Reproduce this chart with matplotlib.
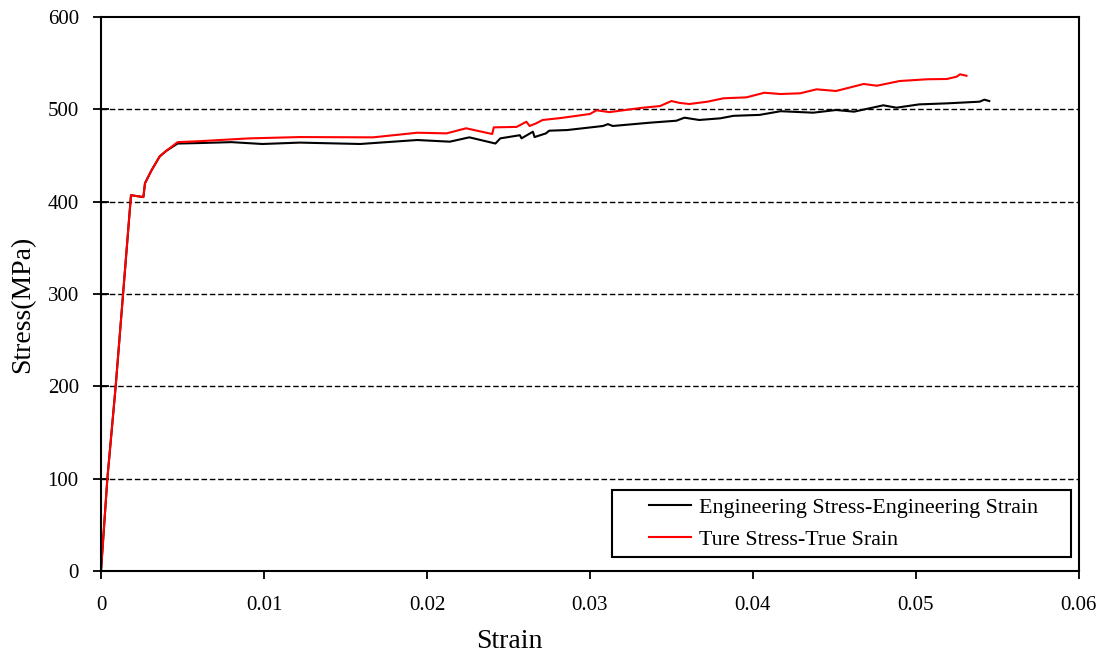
import numpy as np
import matplotlib
matplotlib.use("Agg")
import matplotlib.pyplot as plt
from matplotlib.patches import Rectangle

plt.rcParams['font.family'] = ['Liberation Serif', 'DejaVu Serif']

# engineering stress-strain (MPa)
eng_strain = [0, 0.00039, 0.0009, 0.00184, 0.0026, 0.0027, 0.0031, 0.0036, 0.0040,
              0.0047, 0.0060, 0.0080, 0.0099, 0.0122, 0.0159, 0.0194, 0.0214,
              0.0226, 0.0242, 0.0245, 0.0257, 0.0258, 0.0265, 0.0266, 0.0273,
              0.0275, 0.0286, 0.0308, 0.0311, 0.0314, 0.0337, 0.0353, 0.0358,
              0.0367, 0.0380, 0.0388, 0.0404, 0.0417, 0.0437, 0.0451, 0.0462,
              0.0480, 0.0488, 0.0502, 0.0519, 0.0539, 0.0542, 0.0545]
eng_stress = [0, 100, 200, 407, 405, 420, 434, 449, 455,
              463, 463.5, 464.5, 462.5, 464, 462.5, 466.8, 465,
              469.7, 463, 468.6, 472, 468.6, 475.8, 470, 474,
              476.9, 477.6, 482, 484, 482, 485.6, 487.7, 491,
              488.5, 490.3, 493, 494, 498, 496.4, 499.3, 497.5,
              504.4, 501.8, 505.4, 506.5, 508.3, 510.5, 509]

# true stress-strain (MPa)
true_strain = [0, 0.00039, 0.0009, 0.00184, 0.0026, 0.0027, 0.0031, 0.0036, 0.0040,
               0.0047, 0.0060, 0.0080, 0.00914, 0.0122, 0.0167, 0.0194, 0.0212,
               0.0224, 0.0240, 0.0241, 0.0255, 0.0261, 0.0263, 0.0267, 0.0271,
               0.0282, 0.0300, 0.0304, 0.0312, 0.0331, 0.0343, 0.0350, 0.0355,
               0.0361, 0.0372, 0.0382, 0.0396, 0.0407, 0.0417, 0.0429, 0.0439,
               0.0451, 0.0468, 0.0476, 0.0490, 0.0507, 0.0519, 0.0525, 0.0527,
               0.0531]
true_stress = [0, 100, 200, 407, 405, 420, 434, 449, 455,
               464.5, 465.5, 467.5, 468.6, 470, 469.7, 474.7, 474,
               479.5, 473.3, 480.5, 481, 486.6, 482, 484.9, 488.5,
               490.6, 495, 499, 497, 501.5, 503.6, 509, 507,
               505.8, 508.3, 512, 513, 518, 516.6, 517.4, 521.7,
               519.9, 527.5, 525.6, 530.7, 532.6, 532.9, 535.4, 538,
               536.4]

fig = plt.figure(figsize=(11.05, 6.55), dpi=100)
ax = fig.add_axes([0.0914, 0.1282, 0.885, 0.8458])

ax.plot(eng_strain, eng_stress, color='black', lw=1.5,
        label='Engineering Stress-Engineering Strain')
ax.plot(true_strain, true_stress, color='red', lw=1.5,
        label='Ture Stress-True Srain')

ax.set_xlim(0, 0.06)
ax.set_ylim(0, 600)
ax.set_xticks(np.arange(0, 0.061, 0.01))
ax.set_xticklabels(['0', '0.01', '0.02', '0.03', '0.04', '0.05', '0.06'])
ax.set_yticks(np.arange(0, 601, 100))
for y in range(100, 600, 100):
    ax.axhline(y, color='black', lw=1, ls=(0, (4, 2)), zorder=0)

for s in ax.spines.values():
    s.set_linewidth(1.5)
ax.tick_params(axis='y', direction='inout', length=12, width=1.3, labelsize=15, pad=10)
ax.tick_params(axis='x', direction='out', length=6, width=1.3, labelsize=15, pad=12)

ax.set_xlabel('Strain', fontsize=20)
ax.xaxis.set_label_coords(0.418, -0.105)
ax.set_ylabel('Stress(MPa)', fontsize=20)
ax.yaxis.set_label_coords(-0.067, 0.482)

# legend box drawn separately (the reference frame is wider than its contents)
ax.add_patch(Rectangle((0.5225, 0.025), 0.4695, 0.121, transform=ax.transAxes,
                       facecolor='white', edgecolor='black', lw=1.5, zorder=4))
leg = ax.legend(loc='center left', bbox_to_anchor=(0.56, 0.0855), fontsize=15.8,
                frameon=False, handlelength=1.95, handletextpad=0.35,
                borderpad=0.0, labelspacing=0.55, borderaxespad=0.0)
leg.set_zorder(5)

fig.savefig('out.png', dpi=100)
